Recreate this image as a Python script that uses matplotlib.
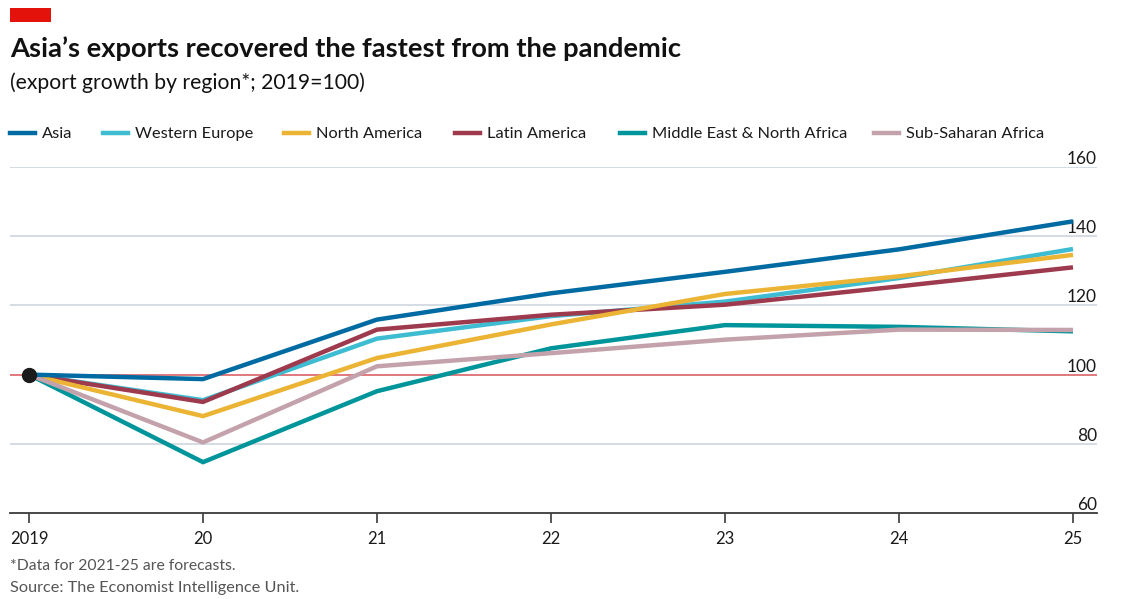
import matplotlib
matplotlib.use("Agg")
import matplotlib.pyplot as plt
from matplotlib.lines import Line2D
from matplotlib.patches import Rectangle

# data (2019 = 100)
years = [2019, 2020, 2021, 2022, 2023, 2024, 2025]
year_labels = ["2019", "20", "21", "22", "23", "24", "25"]

asia = [100, 98.7, 115.9, 123.5, 129.7, 136.2, 144.3]
western_europe = [100, 92.6, 110.4, 116.9, 121.1, 127.9, 136.3]
north_america = [100, 88.0, 104.8, 114.5, 123.3, 128.4, 134.6]
latin_america = [100, 92.1, 113.0, 117.3, 120.2, 125.5, 131.0]
mena = [100, 74.7, 95.2, 107.6, 114.3, 113.8, 112.5]
ss_africa = [100, 80.4, 102.4, 106.2, 110.1, 113.0, 112.9]

y_ticks = [60, 80, 100, 120, 140, 160]

series = [
    ("Asia", asia, "#006BA2"),
    ("Western Europe", western_europe, "#3EBCD2"),
    ("North America", north_america, "#EBB434"),
    ("Latin America", latin_america, "#9E3A4D"),
    ("Middle East & North Africa", mena, "#00959A"),
    ("Sub-Saharan Africa", ss_africa, "#C4A2AB"),
]
draw_order = ["Western Europe", "Latin America", "North America",
              "Middle East & North Africa", "Sub-Saharan Africa", "Asia"]

plt.rcParams["font.family"] = ["Lato", "DejaVu Sans"]

W, H = 1141, 599
fig = plt.figure(figsize=(W / 100, H / 100), dpi=100)
ax = fig.add_axes([10 / W, 1 - 513 / H, (1097 - 10) / W, (513 - 167) / H])

# gridlines + red baseline
for y in y_ticks:
    if y == 100:
        ax.axhline(y, color="#E0787C", lw=1.4, zorder=1)
    elif y != 60:
        ax.axhline(y, color="#CDD6DE", lw=1.2, zorder=0)

lookup = {name: (vals, col) for name, vals, col in series}
for z, name in enumerate(draw_order):
    vals, col = lookup[name]
    ax.plot(years, vals, color=col, lw=3.2, solid_capstyle="butt",
            solid_joinstyle="miter", zorder=3 + z)

ax.plot([years[0]], [asia[0]], "o", color="#1a1a1a", ms=10, zorder=20)

ax.set_xlim(2019 - 19 / 174, 2025 + 24 / 174)
ax.set_ylim(60, 160)

for s in ["top", "left", "right"]:
    ax.spines[s].set_visible(False)
ax.spines["bottom"].set_color("#3a3a3a")
ax.spines["bottom"].set_linewidth(1.3)

ax.set_xticks(years)
ax.set_xticklabels(year_labels)
ax.tick_params(axis="x", length=7, width=1.2, color="#3a3a3a", pad=6,
               labelsize=12, labelcolor="#1a1a1a")
ax.set_yticks(y_ticks)
ax.yaxis.tick_right()
ax.tick_params(axis="y", length=0, pad=0, labelsize=12.5, labelcolor="#1a1a1a")
for lbl in ax.get_yticklabels():
    lbl.set_ha("right")
    lbl.set_va("bottom")

# header
fig.add_artist(Rectangle((10 / W, 1 - 22 / H), 41 / W, 14 / H,
                         transform=fig.transFigure, color="#E3120B", lw=0))
fig.text(10 / W, 1 - 49 / H, "Asia\u2019s exports recovered the fastest from the pandemic",
         fontsize=19.7, fontweight="bold", color="#111111", va="center", ha="left")
fig.text(10 / W, 1 - 83 / H, "(export growth by region*; 2019=100)",
         fontsize=15.2, color="#111111", va="center", ha="left")

# legend
leg_x = [10, 103, 284, 455, 620, 874]
for (name, vals, col), x0 in zip(series, leg_x):
    yy = 1 - 133 / H
    fig.add_artist(Line2D([x0 / W, (x0 + 25) / W], [yy, yy], color=col, lw=3.2,
                          transform=fig.transFigure))
    fig.text((x0 + 32) / W, yy - 1 / H, name, fontsize=11.8, color="#1a1a1a",
             va="center", ha="left")

# footnotes
fig.text(10 / W, 1 - 566 / H, "*Data for 2021-25 are forecasts.",
         fontsize=11.3, color="#555555", va="center", ha="left")
fig.text(10 / W, 1 - 588 / H, "Source: The Economist Intelligence Unit.",
         fontsize=11.7, color="#555555", va="center", ha="left")

fig.savefig("out.png", dpi=100)
